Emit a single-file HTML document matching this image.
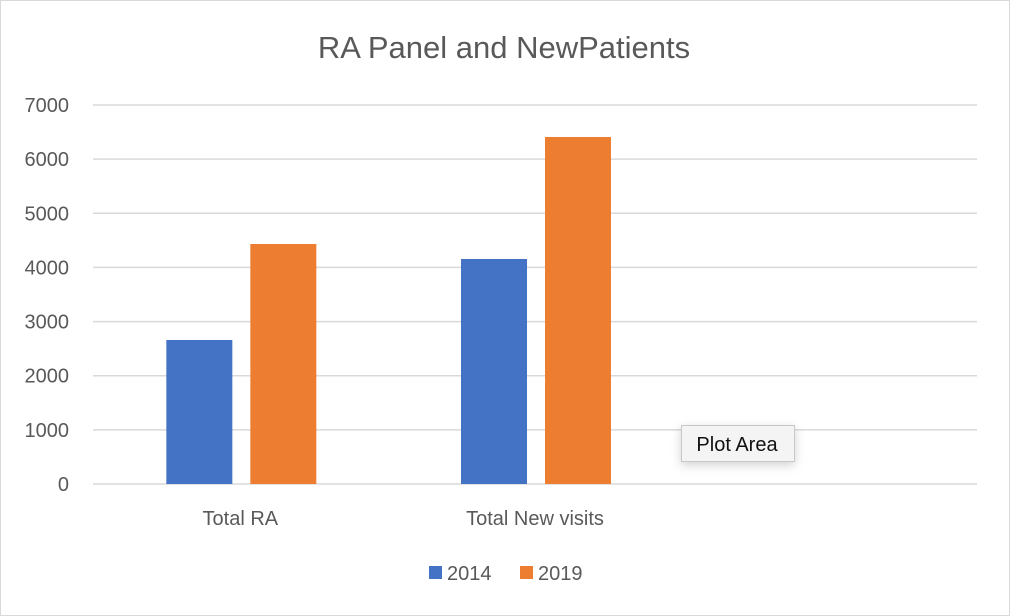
<!DOCTYPE html>
<html><head><meta charset="utf-8"><style>
html,body{margin:0;padding:0;background:#fff;}
svg{display:block;font-family:"Liberation Sans",sans-serif;}
</style></head><body>
<svg id="c" width="1010" height="616">
<rect x="0.5" y="0.5" width="1009" height="615" fill="#fff" stroke="#d9d9d9"/>
<text x="504" y="58" text-anchor="middle" font-size="31" fill="#595959">RA Panel and NewPatients</text>
<g id="grid"></g><g id="bars"></g><g id="labels"></g>
<g>
<rect x="429" y="566" width="13" height="13" fill="#4472c4"/>
<text x="447" y="580" font-size="20" fill="#595959">2014</text>
<rect x="520" y="566" width="13" height="13" fill="#ed7d31"/>
<text x="538" y="580" font-size="20" fill="#595959">2019</text>
</g>
<defs><filter id="sh" x="-20%" y="-40%" width="140%" height="200%"><feDropShadow dx="0" dy="3" stdDeviation="5" flood-opacity="0.18"/></filter></defs>
<g>
<rect x="681.5" y="425.5" width="113" height="36" fill="#f4f4f4" stroke="#c8c8c8" filter="url(#sh)"/>
<text x="737" y="451" text-anchor="middle" font-size="20" fill="#111">Plot Area</text>
</g>
</svg>
<script>
const categories=["Total RA","Total New visits",""];
const series2014=[2660,4156,0];
const series2019=[4433,6409,0];
const ticks=[0,1000,2000,3000,4000,5000,6000,7000];
const NS="http://www.w3.org/2000/svg";
const x0=93,x1=977,y0=484,yTop=105,maxV=7000;
const y=v=>y0-(v/maxV)*(y0-yTop);
const catW=(x1-x0)/categories.length;
const cx=i=>x0+catW*(i+0.5);
function mk(t,a,p){const e=document.createElementNS(NS,t);for(const k in a)e.setAttribute(k,a[k]);p.appendChild(e);return e;}
const g=document.getElementById('grid'),b=document.getElementById('bars'),l=document.getElementById('labels');
ticks.forEach(t=>{
 const ln=mk('line',{x1:x0,x2:x1,y1:y(t),y2:y(t),stroke:'#d9d9d9','stroke-width':1.5},g);
 
 
 const tx=mk('text',{x:69,y:y(t)+7,'text-anchor':'end','font-size':20,fill:'#595959'},g);
 tx.textContent=t;
 
 
});
const bw=66;
categories.forEach((c,i)=>{
 [[series2014,'#4472c4','2014',-74],[series2019,'#ed7d31','2019',10]].forEach(([s,col,n,off])=>{
  if(!s[i])return;
  const r=mk('rect',{x:cx(i)+off,y:y(s[i]),width:bw,height:y0-y(s[i]),fill:col},b);
  
  
 });
 if(c){
  const tx=mk('text',{x:cx(i),y:525,'text-anchor':'middle','font-size':20,fill:'#595959'},l);
  tx.textContent=c;
  
  
 }
});
</script>
</body></html>
